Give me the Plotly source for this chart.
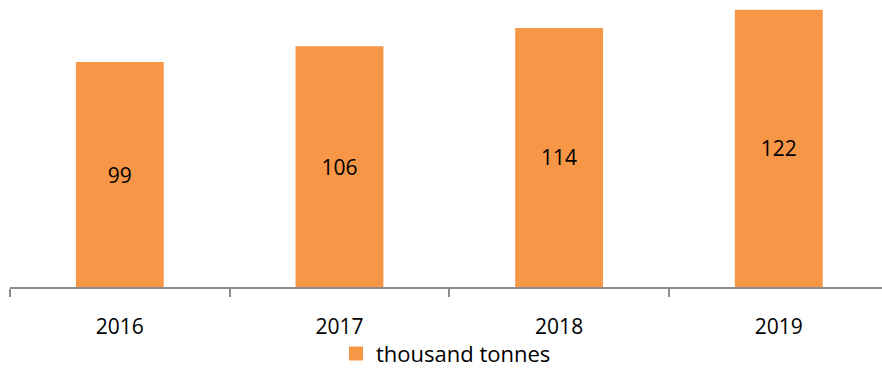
import plotly.graph_objects as go

years = ["2016", "2017", "2018", "2019"]
volumes = [99, 106, 114, 122]
series_name = "thousand tonnes"

bar_color = "#F79646"
font_family = "'Open Sans', Lato, sans-serif"

fig = go.Figure()

# Bars carry the value labels; the legend entry is drawn by a marker-only
# trace so the swatch can be a larger square.
fig.add_trace(go.Bar(
    x=years,
    y=volumes,
    name=series_name,
    marker=dict(color=bar_color, line=dict(width=0)),
    width=0.4,
    text=[str(v) for v in volumes],
    textposition="inside",
    insidetextanchor="middle",
    textfont=dict(family=font_family, size=21, color="#000000"),
    showlegend=False,
))
fig.add_trace(go.Scatter(
    x=[years[0]],
    y=[None],
    mode="markers",
    name=series_name,
    marker=dict(symbol="square", size=14, color=bar_color),
    showlegend=True,
    hoverinfo="skip",
))

fig.update_layout(
    width=882,
    height=369,
    margin=dict(l=10, r=0, t=0, b=82, autoexpand=False),
    paper_bgcolor="white",
    plot_bgcolor="white",
    font=dict(family=font_family, size=21, color="#000000"),
    showlegend=True,
    legend=dict(
        orientation="h",
        x=0.5, xanchor="center",
        y=-0.232, yanchor="middle",
        font=dict(size=22),
        itemwidth=30,
        bgcolor="rgba(0,0,0,0)",
    ),
    xaxis=dict(
        type="category",
        range=[-0.5, 3.47],
        automargin=False,
        showline=True,
        linecolor="#8C8C8C",
        linewidth=1.5,
        ticks="outside",
        tickson="boundaries",
        ticklen=8,
        tickwidth=1.5,
        tickcolor="#8C8C8C",
        showgrid=False,
        tickfont=dict(size=21),
        ticklabelstandoff=20,
    ),
    yaxis=dict(
        range=[0, 126.3],
        visible=False,
        showgrid=False,
        zeroline=False,
    ),
)

fig.write_html("out.html")
